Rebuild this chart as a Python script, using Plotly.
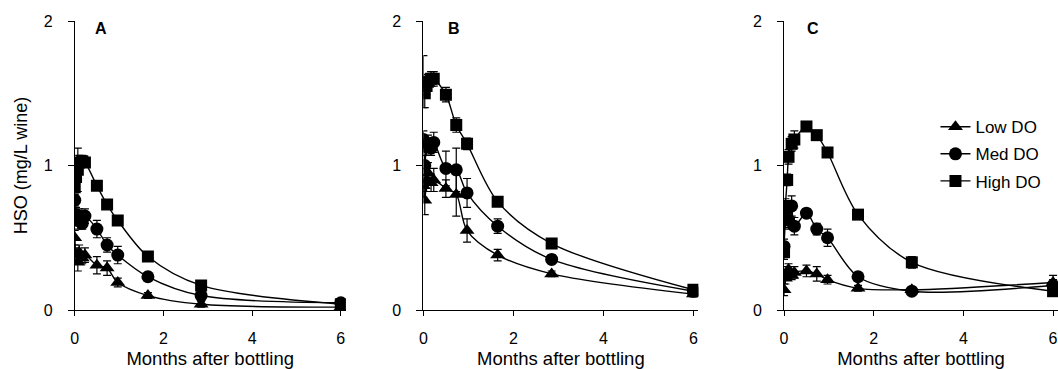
import plotly.graph_objects as go

# Sampling times (months after bottling)
months = [0, 0.03, 0.07, 0.1, 0.17, 0.23, 0.5, 0.73, 0.97, 1.65, 2.85, 6]
x_ticks = [0, 2, 4, 6]
y_ticks = [0, 1, 2]
series_names = ["Low DO", "Med DO", "High DO"]
panel_labels = ["A", "B", "C"]

# Panel A
a_low = [0.50, 0.38, 0.33, 0.40, 0.36, 0.38, 0.31, 0.29, 0.19, 0.10, 0.04, 0.02]
a_med = [0.76, 0.66, 0.62, 0.65, 0.60, 0.65, 0.56, 0.45, 0.38, 0.23, 0.10, 0.05]
a_high = [0.85, 0.92, 0.97, 1.02, 1.03, 1.02, 0.86, 0.73, 0.62, 0.37, 0.17, 0.04]
a_low_err = [0.05, 0.05, 0.06, 0.05, 0.04, 0.05, 0.06, 0.05, 0.03, 0.02, 0.02, 0.01]
a_med_err = [0.04, 0.05, 0.06, 0.05, 0.04, 0.05, 0.06, 0.05, 0.06, 0.03, 0.02, 0.02]
a_high_err = [0.04, 0.05, 0.15, 0.05, 0.04, 0.03, 0.03, 0.03, 0.03, 0.03, 0.03, 0.02]

# Panel B
b_low = [0.86, 0.76, 0.90, 0.95, 0.88, 0.90, 0.84, 0.80, 0.55, 0.38, 0.25, 0.11]
b_med = [1.18, 1.00, 1.13, 1.15, 1.12, 1.16, 0.98, 0.97, 0.81, 0.58, 0.35, 0.13]
b_high = [1.58, 1.50, 1.55, 1.58, 1.60, 1.60, 1.49, 1.28, 1.15, 0.75, 0.46, 0.14]
b_low_err = [0.08, 0.10, 0.08, 0.07, 0.06, 0.08, 0.06, 0.15, 0.08, 0.04, 0.02, 0.02]
b_med_err = [0.06, 0.07, 0.06, 0.06, 0.05, 0.07, 0.12, 0.15, 0.10, 0.05, 0.03, 0.02]
b_high_err = [0.18, 0.10, 0.06, 0.05, 0.05, 0.05, 0.05, 0.05, 0.04, 0.03, 0.03, 0.02]

# Panel C
c_low = [0.14, 0.22, 0.26, 0.28, 0.24, 0.26, 0.27, 0.25, 0.21, 0.15, 0.14, 0.19]
c_med = [0.44, 0.63, 0.70, 0.62, 0.72, 0.58, 0.67, 0.56, 0.50, 0.23, 0.13, 0.17]
c_high = [0.40, 0.72, 0.90, 1.06, 1.15, 1.18, 1.27, 1.21, 1.09, 0.66, 0.33, 0.13]
c_low_err = [0.04, 0.04, 0.04, 0.04, 0.03, 0.04, 0.04, 0.05, 0.03, 0.02, 0.02, 0.05]
c_med_err = [0.05, 0.06, 0.05, 0.06, 0.07, 0.06, 0.03, 0.04, 0.06, 0.03, 0.02, 0.04]
c_high_err = [0.05, 0.05, 0.04, 0.05, 0.05, 0.06, 0.03, 0.03, 0.03, 0.03, 0.04, 0.03]

panels = [
    [(a_low, a_low_err), (a_med, a_med_err), (a_high, a_high_err)],
    [(b_low, b_low_err), (b_med, b_med_err), (b_high, b_high_err)],
    [(c_low, c_low_err), (c_med, c_med_err), (c_high, c_high_err)],
]

symbols = ["triangle-up", "circle", "square"]
sizes = [13, 13, 12]

W, H = 1058, 369
domains_px = [(71, 343), (421, 697), (783, 1058)]
FONT = "Liberation Sans, Arial, sans-serif"

fig = go.Figure()
for p, series in enumerate(panels):
    xa = "x" if p == 0 else f"x{p+1}"
    ya = "y" if p == 0 else f"y{p+1}"
    for s, (vals, errs) in enumerate(series):
        fig.add_trace(go.Scatter(
            x=months, y=vals, xaxis=xa, yaxis=ya,
            mode="lines+markers",
            name=series_names[s],
            legendgroup=series_names[s],
            showlegend=(p == 2),
            line=dict(color="black", width=1.4, shape="spline", smoothing=0.9),
            marker=dict(symbol=symbols[s], size=sizes[s], color="black"),
            error_y=dict(type="data", array=errs, visible=True, color="black",
                         thickness=1.2, width=4),
        ))

layout = dict(
    width=W, height=H,
    margin=dict(l=0, r=0, t=21, b=59),
    paper_bgcolor="white", plot_bgcolor="white",
    font=dict(family=FONT, color="black", size=16),
    legend=dict(x=935 / W, y=0.695, xanchor="left", yanchor="top",
                bgcolor="rgba(0,0,0,0)", font=dict(size=17, family=FONT),
                itemwidth=30, tracegroupgap=2),
)
for p in range(3):
    suffix = "" if p == 0 else str(p + 1)
    d0, d1 = domains_px[p]
    layout["xaxis" + suffix] = dict(
        domain=[d0 / W, d1 / W], range=[0, 6.11], tickvals=x_ticks,
        showline=True, linecolor="black", linewidth=1,
        ticks="outside", ticklen=5, tickcolor="black",
        showgrid=False, zeroline=False, ticklabeloverflow="allow",
        ticklabelstandoff=9,
        anchor="y" + suffix,
        title=dict(text="Months after bottling", font=dict(size=18.5), standoff=9),
        tickfont=dict(size=16),
    )
    layout["yaxis" + suffix] = dict(
        range=[0, 2], tickvals=y_ticks,
        showline=True, linecolor="black", linewidth=1,
        ticks="outside", ticklen=6, tickcolor="black",
        showgrid=False, zeroline=False, anchor="x" + suffix,
        ticklabelstandoff=12,
        tickfont=dict(size=16),
        title=dict(text="HSO (mg/L wine)" if p == 0 else "", font=dict(size=18), standoff=11),
    )
fig.update_layout(**layout)

label_x_px = [97, 452, 812]
for p in range(3):
    fig.add_annotation(
        x=label_x_px[p] / W, y=1 - (28 - 21) / 289, xref="paper", yref="paper",
        yanchor="middle", xanchor="center",
        text="<b>%s</b>" % panel_labels[p], showarrow=False,
        font=dict(size=16, family=FONT, color="black"),
    )

fig.write_html("out.html")
